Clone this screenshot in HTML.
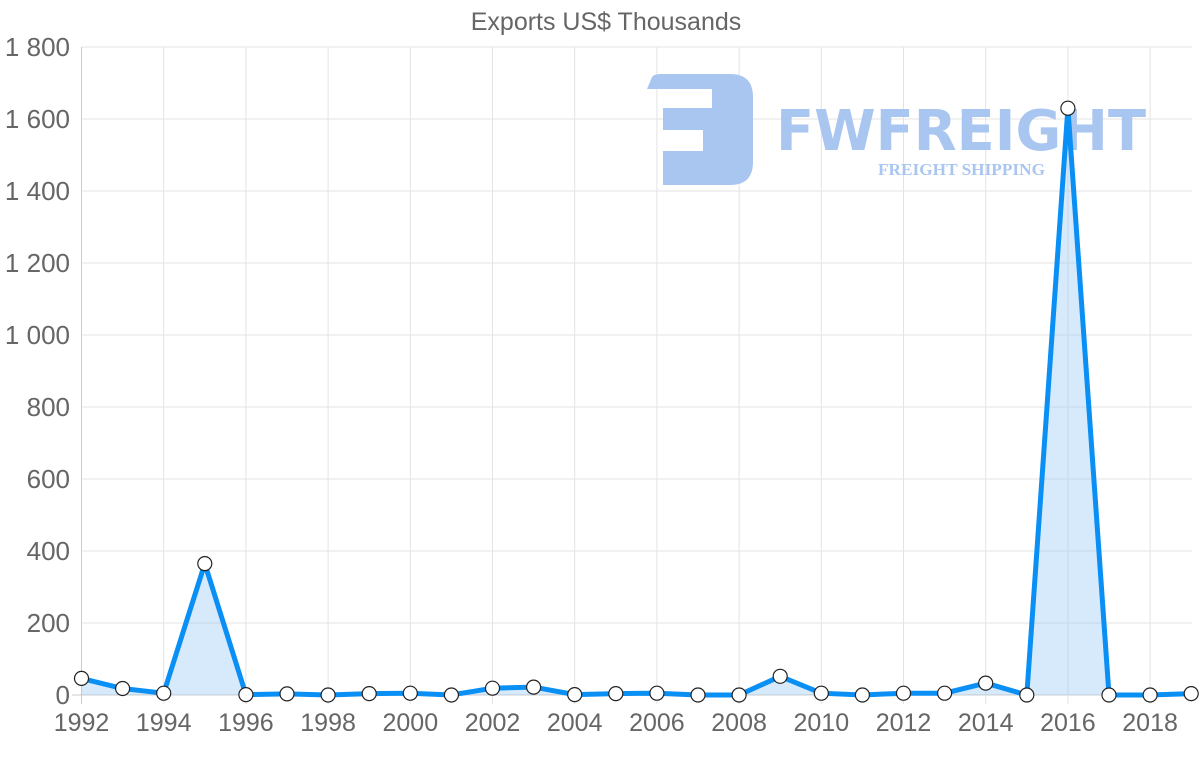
<!DOCTYPE html>
<html><head><meta charset="utf-8"><style>html,body{margin:0;padding:0;background:#fff}svg{display:block}</style></head><body>
<svg width="1200" height="763" xmlns="http://www.w3.org/2000/svg" font-family="Liberation Sans, sans-serif">
<text x="606" y="30" text-anchor="middle" font-size="25" fill="#666">Exports US$ Thousands</text>
<g stroke="#e3e3e3" stroke-width="1">
<line x1="81.5" y1="47" x2="1192" y2="47"/><line x1="81.5" y1="119" x2="1192" y2="119"/><line x1="81.5" y1="191" x2="1192" y2="191"/><line x1="81.5" y1="263" x2="1192" y2="263"/><line x1="81.5" y1="335" x2="1192" y2="335"/><line x1="81.5" y1="407" x2="1192" y2="407"/><line x1="81.5" y1="479" x2="1192" y2="479"/><line x1="81.5" y1="551" x2="1192" y2="551"/><line x1="81.5" y1="623" x2="1192" y2="623"/><line x1="72" y1="695" x2="1192" y2="695" stroke="#ccc"/>
<line x1="81.5" y1="47" x2="81.5" y2="704" stroke="#ccc"/><line x1="163.7" y1="47" x2="163.7" y2="704"/><line x1="245.9" y1="47" x2="245.9" y2="704"/><line x1="328.1" y1="47" x2="328.1" y2="704"/><line x1="410.3" y1="47" x2="410.3" y2="704"/><line x1="492.5" y1="47" x2="492.5" y2="704"/><line x1="574.7" y1="47" x2="574.7" y2="704"/><line x1="656.9" y1="47" x2="656.9" y2="704"/><line x1="739.1" y1="47" x2="739.1" y2="704"/><line x1="821.3" y1="47" x2="821.3" y2="704"/><line x1="903.5" y1="47" x2="903.5" y2="704"/><line x1="985.7" y1="47" x2="985.7" y2="704"/><line x1="1067.9" y1="47" x2="1067.9" y2="704"/><line x1="1150.1" y1="47" x2="1150.1" y2="704"/>
</g>
<g font-size="26" fill="#666" text-anchor="end">
<text x="70" y="56">1 800</text><text x="70" y="128">1 600</text><text x="70" y="200">1 400</text><text x="70" y="272">1 200</text><text x="70" y="344">1 000</text><text x="70" y="416">800</text><text x="70" y="488">600</text><text x="70" y="560">400</text><text x="70" y="632">200</text><text x="70" y="704">0</text>
</g>
<g font-size="25" fill="#666" text-anchor="middle">
<text x="81.5" y="731">1992</text><text x="163.7" y="731">1994</text><text x="245.9" y="731">1996</text><text x="328.1" y="731">1998</text><text x="410.3" y="731">2000</text><text x="492.5" y="731">2002</text><text x="574.7" y="731">2004</text><text x="656.9" y="731">2006</text><text x="739.1" y="731">2008</text><text x="821.3" y="731">2010</text><text x="903.5" y="731">2012</text><text x="985.7" y="731">2014</text><text x="1067.9" y="731">2016</text><text x="1150.1" y="731">2018</text>
</g>
<g fill="#a9c6f1">
<path d="M647,89 L652,77 Q654,74 660,74 L730,74 Q753,74 753,97 L753,162 Q753,185 730,185 L663,185 L663,151 L703,151 L703,130 L663,130 L663,108 L712,108 L712,89 Z"/>
<text x="776" y="150" font-size="56" font-weight="bold" textLength="370" lengthAdjust="spacingAndGlyphs" font-family="DejaVu Sans, sans-serif">FWFREIGHT</text>
<text x="878" y="175" font-size="17" font-weight="bold" font-family="Liberation Serif, serif" textLength="167" lengthAdjust="spacingAndGlyphs">FREIGHT SHIPPING</text>
</g>
<path d="M81.5,678.4 L122.6,688.5 L163.7,693.2 L204.8,563.6 L245.9,694.6 L287,693.9 L328.1,695 L369.2,693.6 L410.3,693.2 L451.4,695 L492.5,688.2 L533.6,687.1 L574.7,694.6 L615.8,693.6 L656.9,693.2 L698,695 L739.1,695 L780.2,676.3 L821.3,693.2 L862.4,695 L903.5,693.2 L944.6,693.2 L985.7,683.1 L1026.8,695 L1067.9,108.2 L1109,695 L1150.1,695 L1191.2,693.6 L1191.2,695 L81.5,695 Z" fill="rgba(140,195,245,0.35)"/>
<polyline points="81.5,678.4 122.6,688.5 163.7,693.2 204.8,563.6 245.9,694.6 287,693.9 328.1,695 369.2,693.6 410.3,693.2 451.4,695 492.5,688.2 533.6,687.1 574.7,694.6 615.8,693.6 656.9,693.2 698,695 739.1,695 780.2,676.3 821.3,693.2 862.4,695 903.5,693.2 944.6,693.2 985.7,683.1 1026.8,695 1067.9,108.2 1109,695 1150.1,695 1191.2,693.6" fill="none" stroke="#0a8ff5" stroke-width="5" stroke-linejoin="miter"/>
<g fill="#fff" stroke="#222" stroke-width="1.2">
<circle cx="81.5" cy="678.4" r="7"/><circle cx="122.6" cy="688.5" r="7"/><circle cx="163.7" cy="693.2" r="7"/><circle cx="204.8" cy="563.6" r="7"/><circle cx="245.9" cy="694.6" r="7"/><circle cx="287" cy="693.9" r="7"/><circle cx="328.1" cy="695" r="7"/><circle cx="369.2" cy="693.6" r="7"/><circle cx="410.3" cy="693.2" r="7"/><circle cx="451.4" cy="695" r="7"/><circle cx="492.5" cy="688.2" r="7"/><circle cx="533.6" cy="687.1" r="7"/><circle cx="574.7" cy="694.6" r="7"/><circle cx="615.8" cy="693.6" r="7"/><circle cx="656.9" cy="693.2" r="7"/><circle cx="698" cy="695" r="7"/><circle cx="739.1" cy="695" r="7"/><circle cx="780.2" cy="676.3" r="7"/><circle cx="821.3" cy="693.2" r="7"/><circle cx="862.4" cy="695" r="7"/><circle cx="903.5" cy="693.2" r="7"/><circle cx="944.6" cy="693.2" r="7"/><circle cx="985.7" cy="683.1" r="7"/><circle cx="1026.8" cy="695" r="7"/><circle cx="1067.9" cy="108.2" r="7"/><circle cx="1109" cy="695" r="7"/><circle cx="1150.1" cy="695" r="7"/><circle cx="1191.2" cy="693.6" r="7"/>
</g>
</svg>
</body></html>
